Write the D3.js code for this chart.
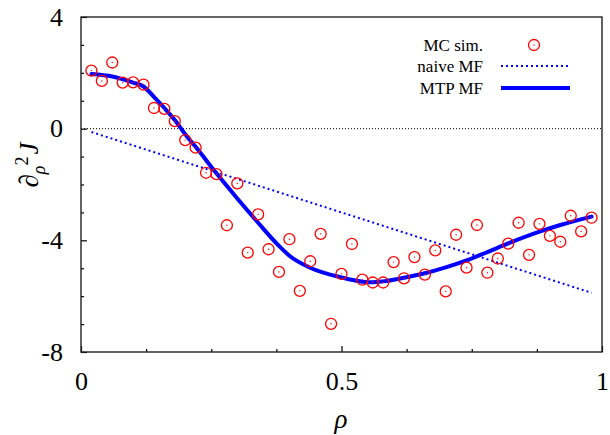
<!DOCTYPE html>
<html>
<head>
<meta charset="utf-8">
<script src="https://cdn.jsdelivr.net/npm/d3@7"></script>
<style>
  html, body { margin: 0; padding: 0; background: #fff; }
  svg { display: block; }
  text { font-family: "Liberation Serif", "DejaVu Serif", serif; fill: #000; }
</style>
</head>
<body>
<svg id="chart" width="610" height="435"></svg>
<script>
// ---- data ----
const mcRho = [0.02,0.04,0.06,0.08,0.10,0.12,0.14,0.16,0.18,0.20,0.22,0.24,0.26,0.28,0.30,0.32,0.34,0.36,0.38,0.40,
               0.42,0.44,0.46,0.48,0.50,0.52,0.54,0.56,0.58,0.60,0.62,0.64,0.66,0.68,0.70,0.72,0.74,0.76,0.78,0.80,
               0.82,0.84,0.86,0.88,0.90,0.92,0.94,0.96,0.98];
const mcVal = [2.08,1.71,2.37,1.65,1.66,1.58,0.74,0.71,0.27,-0.41,-0.68,-1.58,-1.63,-3.46,-1.96,-4.44,-3.07,-4.32,-5.13,-3.96,
               -5.81,-4.75,-3.77,-6.99,-5.20,-4.13,-5.41,-5.51,-5.51,-4.78,-5.36,-4.60,-5.23,-4.36,-5.83,-3.80,-4.98,-3.45,-5.16,-4.65,
               -4.12,-3.37,-4.52,-3.41,-3.84,-4.05,-3.12,-3.68,-3.19];
const naiveRho = [0.02, 0.50, 0.98];
const naiveVal = [-0.12, -3.00, -5.88];
const mtpRho = [0.02,0.06,0.10,0.12,0.14,0.16,0.18,0.20,0.22,0.26,0.30,0.34,0.38,0.40,0.44,0.50,0.54,0.56,0.58,0.62,0.66,0.70,0.74,0.78,0.82,0.88,0.92,0.98];
const mtpVal = [1.96,1.87,1.65,1.51,1.14,0.74,0.31,-0.20,-0.65,-1.60,-2.50,-3.37,-4.20,-4.55,-4.98,-5.33,-5.48,-5.50,-5.47,-5.34,-5.18,-4.97,-4.72,-4.42,-4.11,-3.69,-3.45,-3.15];
const xMajorTicks = [0, 0.5, 1];
const xMinorTicks = [0.125,0.25,0.375,0.625,0.75,0.875];
const yMajorTicks = [4, 0, -4, -8];
const yMinorTicks = [3,2,1,-1,-2,-3,-5,-6,-7];
const legendLabels = ["MC sim.", "naive MF", "MTP MF"];

// ---- layout ----
const L = 81, R = 602, T = 17, B = 352;
const svg = d3.select("#chart");
const x = d3.scaleLinear().domain([0, 1]).range([L, R]);
const y = d3.scaleLinear().domain([-8, 4]).range([B, T]);
const red = "#ff0000", blue = "#0000ff";

// zero line
svg.append("line")
  .attr("x1", x(0)).attr("x2", x(1)).attr("y1", y(0)).attr("y2", y(0))
  .attr("stroke", "#000").attr("stroke-width", 1).attr("stroke-dasharray", "1,2");

// axes
const fmt = d => String(d);
function styleAxis(g) {
  g.select(".domain").remove();
  g.selectAll(".tick line").attr("stroke", "#000").attr("stroke-width", 1.2);
  g.selectAll(".tick text").style("font-size", "26px").style("font-family", "Liberation Serif, serif");
}
svg.append("g").attr("transform", `translate(0,${B})`)
  .call(d3.axisBottom(x).tickValues(xMinorTicks).tickSize(-3).tickFormat(""))
  .call(styleAxis);
svg.append("g").attr("transform", `translate(0,${B})`)
  .call(d3.axisBottom(x).tickValues(xMajorTicks).tickSize(-6).tickPadding(20).tickFormat(fmt))
  .call(styleAxis);
svg.append("g").attr("transform", `translate(${L},0)`)
  .call(d3.axisLeft(y).tickValues(yMinorTicks).tickSize(-3).tickFormat(""))
  .call(styleAxis);
svg.append("g").attr("transform", `translate(${L},0)`)
  .call(d3.axisLeft(y).tickValues(yMajorTicks).tickSize(-6).tickPadding(18).tickFormat(fmt))
  .call(styleAxis);

// frame
svg.append("rect").attr("x", L).attr("y", T).attr("width", R - L).attr("height", B - T)
  .attr("fill", "none").attr("stroke", "#222").attr("stroke-width", 1.4);

// naive MF
const naive = naiveRho.map((r, i) => [r, naiveVal[i]]);
svg.append("path").datum(naive)
  .attr("d", d3.line().x(d => x(d[0])).y(d => y(d[1])))
  .attr("fill", "none").attr("stroke", blue).attr("stroke-width", 2).attr("stroke-dasharray", "2,3");

// MTP MF
const mtp = mtpRho.map((r, i) => [r, mtpVal[i]]);
svg.append("path").datum(mtp)
  .attr("d", d3.line().curve(d3.curveMonotoneX).x(d => x(d[0])).y(d => y(d[1])))
  .attr("fill", "none").attr("stroke", blue).attr("stroke-width", 4).attr("stroke-linecap", "round");

// MC points
const mc = mcRho.map((r, i) => [r, mcVal[i]]);
function marker(g, cx, cy) {
  g.append("circle").attr("cx", cx).attr("cy", cy).attr("r", 5.5)
    .attr("fill", "none").attr("stroke", red).attr("stroke-width", 1.3);
  g.append("circle").attr("cx", cx).attr("cy", cy).attr("r", 0.7).attr("fill", red);
}
const pts = svg.append("g");
mc.forEach(d => marker(pts, x(d[0]), y(d[1])));

// legend
const lg = svg.append("g");
const rows = [45, 66, 88];
legendLabels.forEach((t, i) => {
  lg.append("text").attr("x", 483).attr("y", rows[i]).attr("dy", "0.35em")
    .attr("text-anchor", "end").style("font-size", "17px").text(t);
});
marker(lg, 534, rows[0]);
lg.append("line").attr("x1", 501).attr("x2", 570).attr("y1", rows[1]).attr("y2", rows[1])
  .attr("stroke", blue).attr("stroke-width", 2).attr("stroke-dasharray", "2,3");
lg.append("line").attr("x1", 501).attr("x2", 570).attr("y1", rows[2]).attr("y2", rows[2])
  .attr("stroke", blue).attr("stroke-width", 4);

// axis titles
svg.append("text").attr("x", 341).attr("y", 428).attr("text-anchor", "middle")
  .style("font-size", "27px").style("font-style", "italic").text("ρ");

const yt = svg.append("text").attr("transform", "translate(38,165) rotate(-90)")
  .attr("text-anchor", "middle").style("font-size", "27px");
yt.append("tspan").text("∂");
yt.append("tspan").attr("dy", 7).style("font-size", "18px").style("font-style", "italic").text("ρ");
yt.append("tspan").attr("dy", -17).style("font-size", "18px").text("2");
yt.append("tspan").attr("dy", 10).attr("dx", 2).style("font-style", "italic").text("J");
</script>
</body>
</html>
